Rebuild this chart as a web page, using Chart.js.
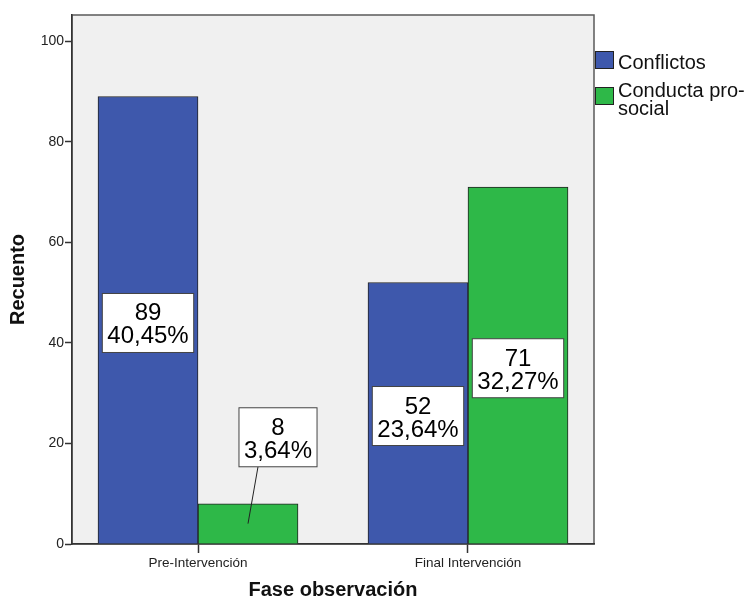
<!DOCTYPE html>
<html><head><meta charset="utf-8">
<script src="https://cdn.jsdelivr.net/npm/chart.js@4/dist/chart.umd.min.js"></script>
<style>html,body{margin:0;padding:0;background:#fff;} #c{display:block;}</style>
</head><body>
<canvas id="c" width="744" height="600"></canvas>
<script>
// ---- data ----
const categories = ['Pre-Intervención', 'Final Intervención'];
const seriesNames = ['Conflictos', 'Conducta pro-social'];
const legendLines = [['Conflictos'], ['Conducta pro-', 'social']];
const conflictos = [89, 52];
const conductaProsocial = [8, 71];
const yTicks = [0, 20, 40, 60, 80, 100];
const seriesColors = ['#3E58AC', '#2EB848'];

const FAMILY = '"Liberation Sans", Arial, Helvetica, sans-serif';
Chart.defaults.font.family = FAMILY;

const total = conflictos.concat(conductaProsocial).reduce((a, b) => a + b, 0);
const pct = v => (v / total * 100).toFixed(2).replace('.', ',') + '%';

const framePlugin = {
  id: 'frame',
  beforeDraw(chart) {
    const { ctx, chartArea: a } = chart;
    ctx.save();
    ctx.fillStyle = '#F0F0F0';
    ctx.fillRect(a.left, a.top, a.right - a.left, a.bottom - a.top);
    ctx.strokeStyle = '#5a5a5a';
    ctx.lineWidth = 1.5;
    ctx.strokeRect(a.left, a.top, a.right - a.left, a.bottom - a.top);
    ctx.restore();
  }
};

const labelPlugin = {
  id: 'valueLabels',
  afterDatasetsDraw(chart) {
    const ctx = chart.ctx;
    ctx.save();
    ctx.font = '24px ' + FAMILY;
    chart.data.datasets.forEach((ds, di) => {
      const meta = chart.getDatasetMeta(di);
      meta.data.forEach((bar, i) => {
        const v = ds.data[i].y;
        const lines = [String(v), pct(v)];
        const w = Math.max(...lines.map(l => ctx.measureText(l).width)) + 10;
        const h = 59;
        const mid = (bar.y + bar.base) / 2;
        let cx = bar.x, cy = mid + 3;
        const callout = (bar.base - bar.y) < h;
        if (callout) {
          cx = bar.x + 30;
          cy = bar.y - h / 2 - 37;
          ctx.strokeStyle = '#222';
          ctx.lineWidth = 1;
          ctx.beginPath();
          ctx.moveTo(bar.x, mid);
          ctx.lineTo(cx - 20, cy + h / 2);
          ctx.stroke();
        }
        const top = cy - h / 2;
        ctx.fillStyle = '#fff';
        ctx.fillRect(cx - w / 2, top, w, h);
        ctx.strokeStyle = '#444';
        ctx.lineWidth = 1;
        ctx.strokeRect(cx - w / 2, top, w, h);
        ctx.fillStyle = '#000';
        ctx.textAlign = 'center';
        ctx.textBaseline = 'alphabetic';
        ctx.fillText(lines[0], cx, top + 27);
        ctx.fillText(lines[1], cx, top + 50);
      });
    });
    ctx.restore();
  }
};

const legendPlugin = {
  id: 'sideLegend',
  afterDraw(chart) {
    const { ctx, chartArea: a } = chart;
    ctx.save();
    ctx.font = '20px ' + FAMILY;
    ctx.textAlign = 'left';
    ctx.textBaseline = 'alphabetic';
    const x = a.right + 1;
    const boxTops = [51, 87];
    const baselines = [[69], [96.5, 115]];
    seriesNames.forEach((n, i) => {
      ctx.fillStyle = seriesColors[i];
      ctx.fillRect(x, boxTops[i], 19, 18);
      ctx.strokeStyle = '#222';
      ctx.lineWidth = 1;
      ctx.strokeRect(x + 0.5, boxTops[i] + 0.5, 18, 17);
      ctx.fillStyle = '#111';
      legendLines[i].forEach((t, j) => ctx.fillText(t, x + 23, baselines[i][j]));
    });
    ctx.restore();
  }
};

new Chart(document.getElementById('c'), {
  type: 'bar',
  data: {
    datasets: [
      { label: seriesNames[0], data: conflictos.map((v, i) => ({ x: i, y: v })),
        backgroundColor: seriesColors[0], borderColor: '#222', borderWidth: 1, barThickness: 100 },
      { label: seriesNames[1], data: conductaProsocial.map((v, i) => ({ x: i, y: v })),
        backgroundColor: seriesColors[1], borderColor: '#222', borderWidth: 1, barThickness: 100 }
    ]
  },
  options: {
    responsive: false,
    animation: false,
    layout: { padding: { top: 15, right: 150, bottom: 0, left: 0 } },
    plugins: { legend: { display: false }, tooltip: { enabled: false } },
    scales: {
      x: {
        type: 'linear', min: -0.4667, max: 1.4667, offset: false,
        afterBuildTicks: s => { s.ticks = categories.map((c, i) => ({ value: i })); },
        afterFit: s => { s.height = 56; },
        grid: { offset: false, drawOnChartArea: false, drawTicks: true, tickLength: 9, tickColor: '#333', tickWidth: 1.5 },
        border: { color: '#333', width: 1.5 },
        ticks: { callback: v => categories[v] ?? '', font: { size: 13.5 }, color: '#222', padding: 2,
                 maxRotation: 0, autoSkip: false },
        title: { display: true, text: 'Fase observación', color: '#111',
                 font: { size: 20, weight: 'bold', lineHeight: 1 }, padding: { top: 0, bottom: 0 } }
      },
      y: {
        min: 0, max: 105.2,
        afterBuildTicks: s => { s.ticks = yTicks.map(v => ({ value: v })); },
        afterFit: s => { s.width = 72; },
        grid: { drawOnChartArea: false, drawTicks: true, tickLength: 7, tickColor: '#333', tickWidth: 1.5 },
        border: { color: '#333', width: 1.5 },
        ticks: { font: { size: 14 }, color: '#222', padding: 1 },
        title: { display: true, text: 'Recuento', color: '#111',
                 font: { size: 20, weight: 'bold', lineHeight: 1 }, padding: { top: 8.5, bottom: 0 } }
      }
    }
  },
  plugins: [framePlugin, labelPlugin, legendPlugin]
});
</script>
</body></html>
